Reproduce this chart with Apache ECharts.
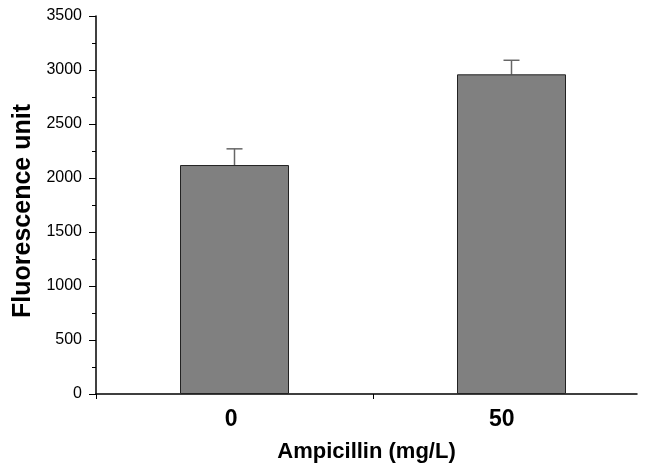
<!DOCTYPE html>
<html>
<head>
<meta charset="utf-8">
<script src="https://cdn.jsdelivr.net/npm/echarts@6/dist/echarts.min.js"></script>
<style>
  html, body { margin: 0; padding: 0; background: #fff; }
  #main { width: 650px; height: 466px; }
</style>
</head>
<body>
<div id="main"></div>
<script>
var categories = ['0', '50'];
var means = [2120, 2960];
var errors = [150, 130];
var yTicks = [0, 500, 1000, 1500, 2000, 2500, 3000, 3500];

var errData = categories.map(function (c, i) {
    return [i, means[i], means[i] + errors[i]];
});

var font = 'Liberation Sans';

var myChart = echarts.init(document.getElementById('main'));
var option = {
    backgroundColor: '#fff',
    animation: false,
    grid: [
        // visible axes
        { left: 96, right: 13, top: 16, bottom: 72, outerBoundsMode: 'none' },
        // bars sit on a slightly wider band, like the original plot
        { left: 96, right: 0, top: 16, bottom: 72, outerBoundsMode: 'none' }
    ],
    xAxis: [
        {
            type: 'category',
            gridIndex: 0,
            data: categories,
            name: 'Ampicillin (mg/L)',
            nameLocation: 'middle',
            nameGap: 47,
            nameTextStyle: { fontFamily: font, fontWeight: 'bold', fontSize: 22, color: '#000' },
            axisLine: { lineStyle: { color: '#000', width: 1.5 } },
            axisTick: { show: false },
            axisLabel: { margin: 14, fontFamily: font, fontWeight: 'bold', fontSize: 23, color: '#000' }
        },
        {
            type: 'category',
            gridIndex: 1,
            data: categories,
            axisLine: { show: false },
            axisTick: { show: true, length: 5, lineStyle: { color: '#000' } },
            axisLabel: { show: false }
        }
    ],
    yAxis: [
        {
            type: 'value',
            gridIndex: 0,
            min: yTicks[0],
            max: yTicks[yTicks.length - 1],
            interval: 500,
            name: 'Fluorescence unit',
            nameLocation: 'middle',
            nameGap: 60,
            nameTextStyle: {
                fontFamily: font, fontWeight: 'bold', fontSize: 25, color: '#000',
                padding: [0, 12, 0, 0]
            },
            axisLine: { show: true, lineStyle: { color: '#000', width: 1.5 } },
            axisTick: { show: true, length: 7, lineStyle: { color: '#000' } },
            minorTick: { show: true, splitNumber: 2, length: 4, lineStyle: { color: '#000' } },
            splitLine: { show: false },
            axisLabel: {
                margin: 14,
                fontFamily: font,
                fontSize: 16,
                color: '#000',
                formatter: function (v) { return String(v); }
            }
        },
        {
            type: 'value',
            gridIndex: 1,
            min: yTicks[0],
            max: yTicks[yTicks.length - 1],
            show: false
        }
    ],
    series: [
        {
            name: 'Fluorescence',
            type: 'bar',
            xAxisIndex: 1,
            yAxisIndex: 1,
            data: means,
            barWidth: 109,
            itemStyle: { color: '#808080', borderColor: '#222', borderWidth: 1 }
        },
        {
            name: 'error',
            type: 'custom',
            xAxisIndex: 1,
            yAxisIndex: 1,
            data: errData,
            z: 1,
            renderItem: function (params, api) {
                var x = api.value(0);
                var top = api.coord([x, api.value(2)]);
                var base = api.coord([x, api.value(1)]);
                var hw = 8;
                var style = { stroke: '#666', lineWidth: 1.5 };
                return {
                    type: 'group',
                    children: [
                        { type: 'line', shape: { x1: top[0], y1: top[1], x2: base[0], y2: base[1] }, style: style },
                        { type: 'line', shape: { x1: top[0] - hw, y1: top[1], x2: top[0] + hw, y2: top[1] }, style: style }
                    ]
                };
            }
        }
    ]
};

myChart.setOption(option);
</script>
</body>
</html>
